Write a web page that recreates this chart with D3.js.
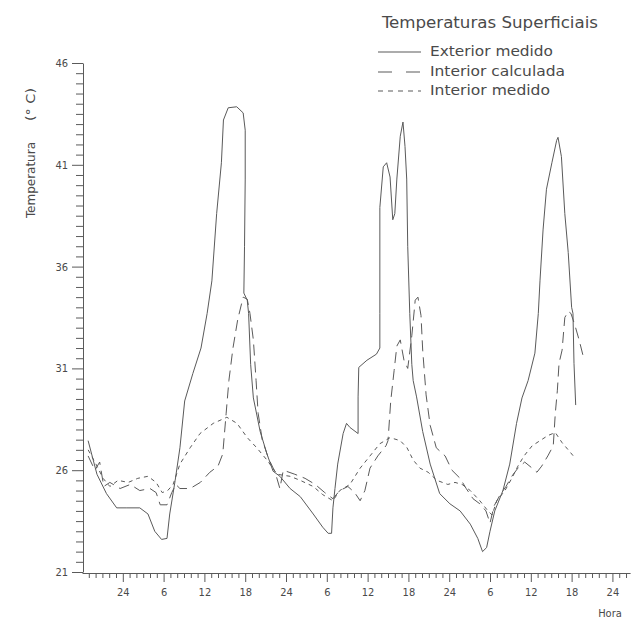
<!DOCTYPE html>
<html><head><meta charset="utf-8">
<script src="https://cdn.jsdelivr.net/npm/d3@7"></script>
<style>
html,body{margin:0;padding:0;background:#fff;}
svg text{font-family:"Liberation Sans Narrow","DejaVu Sans Condensed","Liberation Sans",sans-serif;fill:#4a4a4a;}
</style></head>
<body><svg id="c" width="632" height="623"></svg>
<script>
// ---- data (hour since start, temperature °C) ----
const exteriorMedido = [
 [18.9,27.45],[20.2,25.8],[21.6,24.85],[23.1,24.15],[24.6,24.15],[26.5,24.15],[27.7,23.85],[28.7,23.0],[29.7,22.6],[30.5,22.65],
 [30.9,23.85],[31.7,25.5],[32.4,27.1],[33.1,29.4],[34.3,30.75],[35.5,32.0],[36.4,33.7],[37.1,35.3],[37.8,38.6],[38.5,41.1],
 [38.8,43.2],[39.5,43.8],[40.75,43.85],[41.7,43.55],[42.0,42.7],[42.0,40.3],[41.9,37.0],[41.8,34.7],[42.3,34.35],[42.5,33.7],
 [42.8,31.2],[43.2,29.55],[44.2,27.9],[45.2,26.8],[46.1,25.95],[47.1,25.7],[48.6,25.1],[50.1,24.7],[52.0,23.85],[53.4,23.2],
 [54.2,22.9],[54.7,22.9],[54.9,24.15],[55.2,25.1],[55.6,26.3],[56.4,27.8],[56.9,28.3],[57.4,28.1],[58.6,27.8],[58.6,29.6],
 [58.7,31.05],[59.9,31.4],[61.3,31.7],[61.8,32.0],[61.8,33.7],[61.8,38.9],[62.3,40.9],[62.8,41.1],[63.3,40.4],[63.7,38.3],
 [64.0,38.6],[64.3,40.3],[64.8,42.4],[65.2,43.1],[65.5,41.9],[65.75,40.3],[65.9,37.0],[66.2,33.7],[66.5,31.2],[66.7,30.4],
 [67.2,29.6],[68.1,27.9],[69.2,26.3],[70.6,24.85],[72.1,24.35],[73.6,24.0],[75.1,23.35],[76.2,22.65],[76.9,22.0],[77.5,22.2],
 [78.0,23.0],[78.7,24.0],[79.9,25.0],[80.9,26.3],[81.9,28.3],[82.7,29.55],[83.6,30.4],[84.6,31.75],[85.1,33.7],[85.35,35.3],
 [85.8,37.8],[86.3,39.8],[87.1,41.1],[87.8,42.2],[88.0,42.35],[88.5,41.4],[89.0,38.6],[89.5,36.7],[90.0,34.0],[90.2,33.7],
 [90.35,31.25],[90.6,29.2]
];
const interiorCalculada = [
 [18.9,26.7],[19.9,26.0],[20.6,26.4],[21.2,25.2],[22.1,25.4],[23.6,25.1],[25.1,25.3],[26.5,25.0],[28.0,25.1],[28.9,24.9],
 [29.5,24.3],[30.5,24.3],[31.2,24.9],[31.8,25.3],[32.4,25.1],[33.9,25.1],[35.4,25.4],[36.8,25.9],[38.0,26.2],[38.7,26.8],
 [39.2,28.8],[39.6,30.4],[40.2,32.0],[40.9,33.4],[41.7,34.5],[42.3,34.4],[42.7,33.7],[43.2,32.4],[43.6,30.4],[43.9,28.8],
 [44.5,27.5],[45.4,26.6],[46.4,25.9],[47.1,25.1],[47.6,26.0],[49.3,25.8],[50.8,25.6],[52.3,25.3],[53.7,24.9],[54.9,24.6],
 [55.9,25.0],[57.1,25.2],[58.1,24.9],[58.9,24.5],[59.6,25.0],[60.35,26.1],[61.5,26.7],[62.7,27.2],[63.0,27.45],[63.4,29.4],
 [63.9,30.9],[64.3,32.1],[64.8,32.4],[65.35,31.4],[65.9,31.0],[66.5,32.6],[67.0,34.35],[67.4,34.5],[67.85,33.6],[68.1,31.9],
 [68.6,29.7],[69.2,28.2],[70.1,27.1],[71.4,26.7],[72.4,26.0],[73.6,25.6],[74.5,25.1],[75.5,24.6],[76.5,24.35],[77.4,24.0],
 [78.0,23.4],[78.6,24.25],[79.5,24.8],[80.35,25.2],[81.2,25.7],[82.1,26.1],[83.1,26.4],[84.2,26.1],[84.9,25.9],[85.6,26.2],
 [86.5,26.7],[87.3,27.2],[87.6,28.8],[87.9,29.9],[88.15,31.25],[88.6,31.9],[89.0,33.5],[89.5,33.8],[89.9,33.7],[90.5,33.1],
 [91.1,32.4],[91.7,31.6]
];
const interiorMedido = [
 [18.9,27.0],[19.9,26.4],[21.1,25.6],[22.1,25.2],[23.3,25.5],[24.8,25.4],[26.2,25.6],[27.7,25.7],[28.9,25.4],[29.8,24.9],
 [30.6,25.0],[31.4,25.3],[32.4,26.3],[33.9,27.1],[35.35,27.8],[37.3,28.3],[39.3,28.6],[40.8,28.3],[42.3,27.6],[43.7,27.1],
 [45.2,26.5],[46.7,25.8],[48.6,25.7],[50.1,25.5],[52.0,25.2],[53.4,24.8],[54.9,24.5],[55.9,25.0],[57.4,25.3],[58.9,26.1],
 [60.35,26.7],[61.8,27.3],[63.3,27.6],[64.8,27.45],[65.8,27.1],[66.7,26.5],[67.7,26.1],[68.9,25.9],[70.2,25.5],[71.8,25.3],
 [72.85,25.4],[73.9,25.3],[75.1,25.0],[76.5,24.5],[77.7,24.0],[78.3,23.8],[79.0,24.5],[80.2,25.0],[81.2,25.6],[82.1,26.2],
 [83.0,26.7],[84.2,27.2],[85.35,27.45],[86.5,27.7],[87.6,27.85],[88.6,27.35],[89.5,27.0],[90.5,26.6]
];
const yTickValues = [21, 26, 31, 36, 41, 46];
const xTickHours = [24, 30, 36, 42, 48, 54, 60, 66, 72, 78, 84, 90, 96];
const xTickLabels = ["24","6","12","18","24","6","12","18","24","6","12","18","24"];
const legendTitle = "Temperaturas Superficiais";
const legendLabels = ["Exterior medido", "Interior calculada", "Interior medido"];

// ---- drawing ----
const svg = d3.select("#c");
const ink = "#5a5a5a";
const x = d3.scaleLinear().domain([18, 98.6]).range([82, 630.1]);
const y = d3.scaleLinear().domain([21, 46]).range([572, 63]);

// y axis
const yMinor = d3.range(21, 46.01, 0.5).filter(v => !yTickValues.includes(v));
const gy = svg.append("g").attr("transform", "translate(83,0)");
gy.call(d3.axisLeft(y).tickValues(yMinor).tickSize(7).tickSizeOuter(0).tickFormat(""));
gy.selectAll("line").attr("stroke", ink);
gy.select(".domain").attr("stroke", ink);
const gy2 = svg.append("g").attr("transform", "translate(83,0)");
gy2.call(d3.axisLeft(y).tickValues(yTickValues).tickSize(11).tickSizeOuter(0).tickPadding(4).tickFormat(d3.format("d")));
gy2.select(".domain").remove();
gy2.selectAll(".tick line").attr("stroke", ink);
gy2.selectAll("text").attr("font-size", 11).attr("fill", "#4a4a4a");
gy2.attr("font-family", null); gy.attr("font-family", null);

// x axis
const xMinor = d3.range(19, 98.6, 1).filter(h => !xTickHours.includes(h));
const gx = svg.append("g").attr("transform", "translate(0,573)");
gx.call(d3.axisBottom(x).tickValues(xMinor).tickSize(5).tickSizeOuter(0).tickFormat(""));
gx.selectAll("line").attr("stroke", ink);
gx.select(".domain").attr("stroke", ink);
const gx2 = svg.append("g").attr("transform", "translate(0,573)");
gx2.call(d3.axisBottom(x).tickValues(xTickHours).tickSize(9).tickSizeOuter(0).tickPadding(6)
  .tickFormat((d, i) => xTickLabels[i]));
gx2.select(".domain").remove();
gx2.selectAll(".tick line").attr("stroke", ink);
gx2.selectAll("text").attr("font-size", 11).attr("fill", "#4a4a4a");
gx.attr("font-family", null); gx2.attr("font-family", null);

// axis titles
svg.append("text").attr("x", 610).attr("y", 617).attr("text-anchor", "middle")
  .attr("font-size", 11).text("Hora");
svg.append("text").attr("transform", "translate(35,218) rotate(-90)")
  .attr("font-size", 13).attr("textLength", 76).attr("lengthAdjust", "spacingAndGlyphs").text("Temperatura");
svg.append("text").attr("transform", "translate(35,121) rotate(-90)")
  .attr("font-size", 13).attr("textLength", 33).attr("lengthAdjust", "spacingAndGlyphs").text("(° C)");

// lines
const line = d3.line().x(d => x(d[0])).y(d => y(d[1]));
const series = [
  {data: exteriorMedido, dash: null},
  {data: interiorCalculada, dash: "11,6"},
  {data: interiorMedido, dash: "4,4"}
];
series.forEach(s => {
  svg.append("path").datum(s.data).attr("d", line).attr("fill", "none")
    .attr("stroke", ink).attr("stroke-width", 1)
    .attr("stroke-linejoin", "round")
    .attr("stroke-dasharray", s.dash);
});

// legend
svg.append("text").attr("x", 382).attr("y", 28).attr("font-size", 16)
  .attr("textLength", 216).attr("lengthAdjust", "spacingAndGlyphs").text(legendTitle);
const legY = [52, 72, 91];
const legW = [123, 135, 120];
const legDash = [null, "14,14", "5,5"];
legendLabels.forEach((lab, i) => {
  svg.append("line").attr("x1", 378).attr("x2", 421).attr("y1", legY[i]).attr("y2", legY[i])
    .attr("stroke", ink).attr("stroke-width", 1.1).attr("stroke-dasharray", legDash[i]);
  svg.append("text").attr("x", 430).attr("y", legY[i] + 4).attr("font-size", 14)
    .attr("textLength", legW[i]).attr("lengthAdjust", "spacingAndGlyphs").text(lab);
});
</script></body></html>
